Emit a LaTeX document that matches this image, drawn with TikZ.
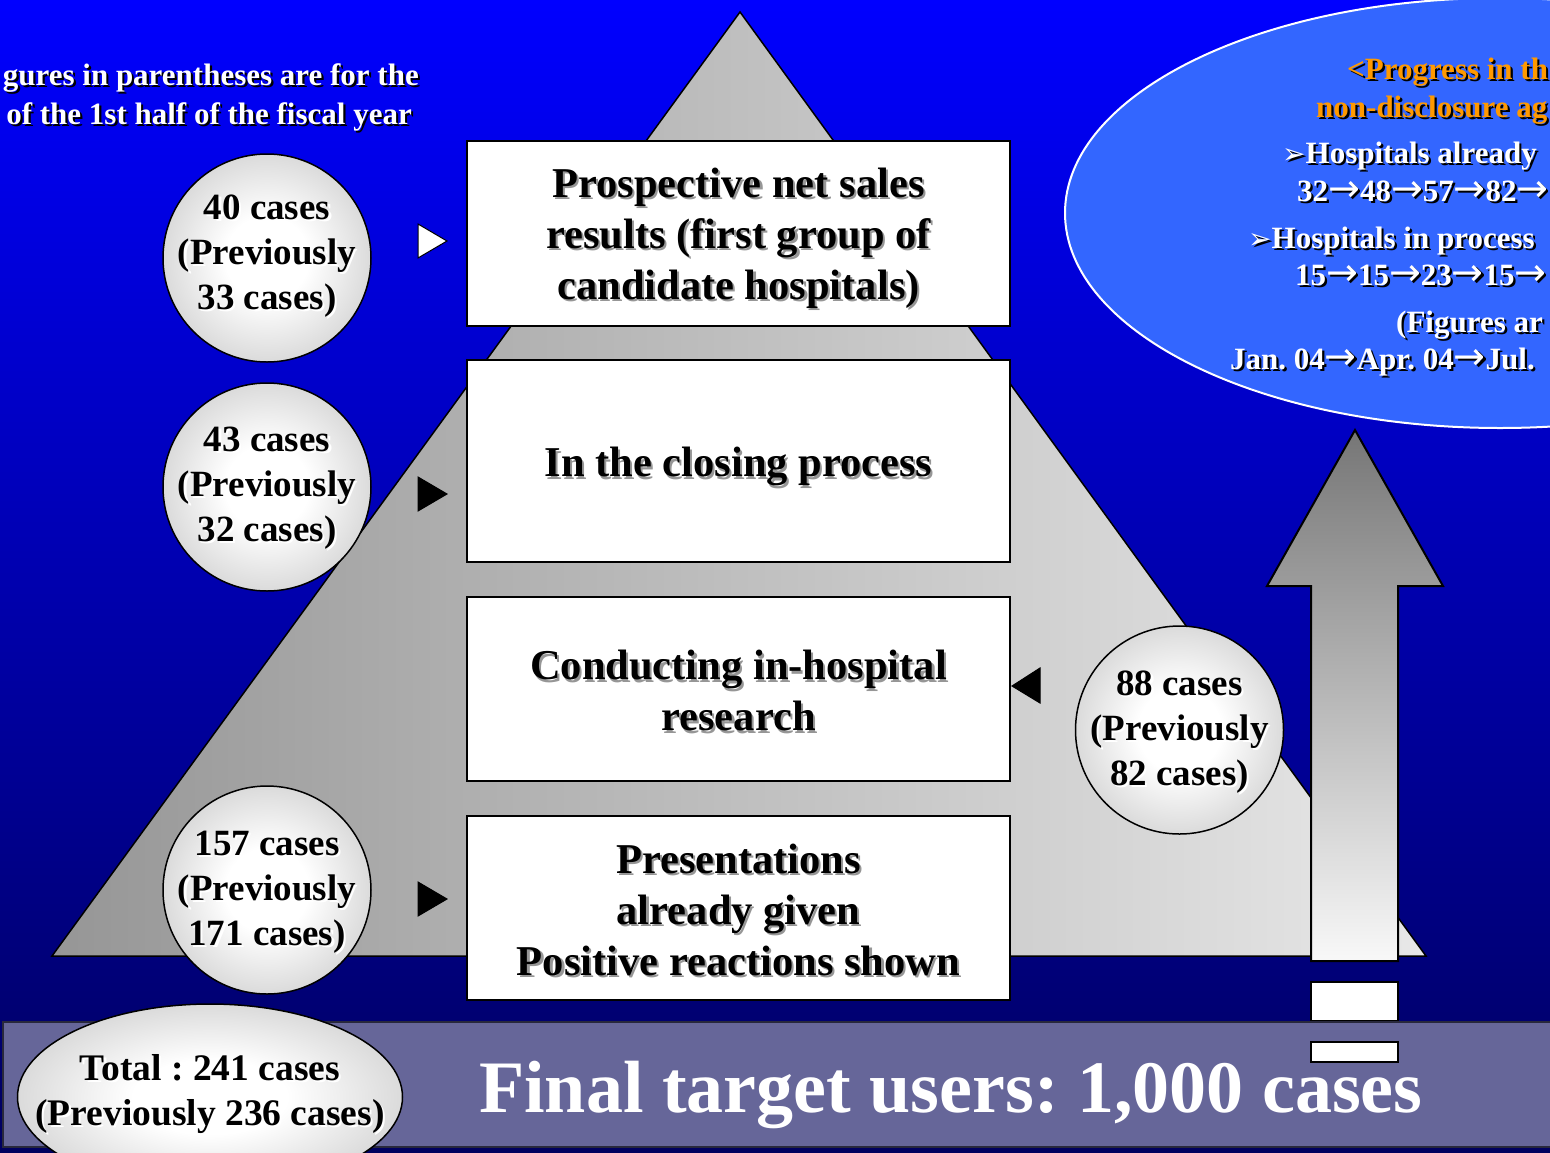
\documentclass[tikz,border=0pt]{standalone}
\usepackage{fontspec}
\setmainfont{Liberation Serif}
\newfontfamily\dejavu{DejaVu Sans}
\usetikzlibrary{calc,shapes.geometric}
\frenchspacing

\definecolor{bgtop}{RGB}{0,0,255}
\definecolor{bgmid}{RGB}{0,0,205}
\definecolor{bgbot}{RGB}{0,0,95}
\definecolor{pyrdark}{RGB}{150,150,150}
\definecolor{pyrlight}{RGB}{232,232,232}
\definecolor{ballgray}{RGB}{158,158,158}
\definecolor{barfill}{RGB}{102,102,153}
\definecolor{barline}{RGB}{40,40,60}
\definecolor{ovalblue}{RGB}{51,102,255}
\definecolor{orangetxt}{RGB}{255,153,0}
\definecolor{shadowgray}{RGB}{150,150,150}
\definecolor{arrowtop}{RGB}{118,118,118}
\definecolor{arrowbot}{RGB}{248,248,248}

% radial fill for the "ball" markers: white core fading to grey at the rim
\pgfdeclareradialshading{ball}{\pgfpoint{0bp}{0bp}}{color(0bp)=(white); color(10bp)=(white); color(50bp)=(ballgray)}

% text with a drop shadow offset to the lower right
\newcommand\shd[2][shadowgray]{\leavevmode\rlap{\kern2.2pt\raisebox{-2.2pt}{\textcolor{#1}{#2}}}#2}
% arrow and bullet glyphs taken from DejaVu Sans
\newcommand\ra{{\dejavu\mdseries\fontsize{38}{38}\selectfont →}}
\newcommand\bul{{\dejavu\fontsize{28}{28}\selectfont ➢}}

\tikzset{
  stagebox/.style={draw=black, line width=2pt, fill=white, inner sep=0pt,
    minimum width=543pt},
  stagetext/.style={inner sep=0pt, align=center,
    font=\fontsize{42.5}{51}\selectfont\bfseries},
  countball/.style={circle, draw=black, line width=1.5pt, shading=ball,
    minimum size=208pt, inner sep=0pt},
  counttext/.style={inner sep=0pt, align=center,
    font=\fontsize{37}{45}\selectfont\bfseries},
  ovaltext/.style={anchor=base west, inner sep=0pt, text=white,
    font=\fontsize{31}{37}\selectfont\bfseries},
  notetext/.style={anchor=base east, inner sep=0pt, text=white,
    font=\fontsize{31}{38}\selectfont\bfseries},
  marker/.style={line width=1pt, draw=black},
}

\begin{document}
\begin{tikzpicture}[x=1pt,y=-1pt]
\useasboundingbox (0,0) rectangle (1550,1152);
\clip (0,0) rectangle (1550,1152);

% backdrop
\shade[top color=bgtop, middle color=bgmid, bottom color=bgbot] (0,0) rectangle (1550,1152);

% progress oval, top right
\node[ellipse, draw=white, line width=2pt, fill=ovalblue, inner sep=0pt,
      minimum width=870pt, minimum height=430pt] (oval) at (1500,213) {};
\node[ovaltext, text=orangetxt] (o1) at (1347,79) {\shd[black]{<Progress in th}};
\node[ovaltext, text=orangetxt] (o2) at (1316,117) {\shd[black]{non-disclosure ag}};
\node[ovaltext] (o3) at (1282,163) {\shd[black]{\bul Hospitals already}};
\node[ovaltext] (o4) at (1297,201) {\shd[black]{32\ra48\ra57\ra82\ra}};
\node[ovaltext] (o5) at (1248,248) {\shd[black]{\bul Hospitals in process}};
\node[ovaltext] (o6) at (1295,285) {\shd[black]{15\ra15\ra23\ra15\ra}};
\node[ovaltext] (o7) at (1396,332) {\shd[black]{(Figures ar}};
\node[ovaltext] (o8) at (1230,369) {\shd[black]{Jan. 04\ra Apr. 04\ra Jul.}};

% pyramid
\shadedraw[left color=pyrdark, right color=pyrlight, draw=black, line width=1.5pt]
  (740,12) -- (1426,956) -- (52,956) -- cycle;

% rising arrow
\shadedraw[top color=arrowtop, bottom color=arrowbot, draw=black, line width=2pt]
  (1355,430) -- (1443,586) -- (1398,586) -- (1398,961) -- (1311,961)
  -- (1311,586) -- (1267,586) -- cycle;
\draw[fill=white, draw=black, line width=1.5pt] (1311,982) rectangle (1398,1021);

% note, top left
\node[notetext] (n1) at (419,85) {\shd[black]{gures in parentheses are for the}};
\node[notetext] (n2) at (412,124) {\shd[black]{of the 1st half of the fiscal year}};

% stage boxes
\node[stagebox, minimum height=185pt] (b1) at (738.5,233.5) {};
\node[stagebox, minimum height=202pt] (b2) at (738.5,461) {};
\node[stagebox, minimum height=184pt] (b3) at (738.5,689) {};
\node[stagebox, minimum height=184pt] (b4) at (738.5,908) {};
\node[stagetext] (t1) at ($(b1.center)+(0,6)$)
  {\shd{Prospective net sales}\\\shd{results (first group of}\\\shd{candidate hospitals)}};
\node[stagetext] (t2) at ($(b2.center)+(0,7)$) {\shd{In the closing process}};
\node[stagetext] (t3) at ($(b3.center)+(0,3)$) {\shd{Conducting in-hospital}\\\shd{research}};
\node[stagetext] (t4) at ($(b4.center)+(0,3)$)
  {\shd{Presentations}\\\shd{already given}\\\shd{Positive reactions shown}};

% case counts
\node[countball] (c1) at (267,258) {};
\node[countball] (c2) at (267,487) {};
\node[countball] (c3) at (267,890) {};
\node[countball] (c4) at (1179.5,730) {};
\node[counttext] (k1) at ($(c1.center)+(0,-1)$) {\shd[white]{40 cases}\\\shd[white]{(Previously}\\\shd[white]{33 cases)}};
\node[counttext] (k2) at ($(c2.center)+(0,2)$) {\shd[white]{43 cases}\\\shd[white]{(Previously}\\\shd[white]{32 cases)}};
\node[counttext] (k3) at ($(c3.center)+(0,3)$) {\shd[white]{157 cases}\\\shd[white]{(Previously}\\\shd[white]{171 cases)}};
\node[counttext] (k4) at ($(c4.center)+(0,3)$) {\shd[white]{88 cases}\\\shd[white]{(Previously}\\\shd[white]{82 cases)}};

% pointers between counts and stages
\filldraw[marker, fill=white] (418,224) -- (447,241) -- (418,258) -- cycle;
\filldraw[marker, fill=black] (418,477) -- (447,494) -- (418,511) -- cycle;
\filldraw[marker, fill=black] (418,882) -- (447,899) -- (418,916) -- cycle;
\filldraw[marker, fill=black] (1040,668) -- (1012,686) -- (1040,703) -- cycle;

% target bar
\draw[fill=barfill, draw=barline, line width=2pt] (3,1022) rectangle (1560,1147);
\draw[fill=white, draw=black, line width=1.5pt] (1311,1042) rectangle (1398,1062);
\node[anchor=base west, inner sep=0pt, text=white, font=\fontsize{74}{80}\selectfont\bfseries]
  (target) at (479,1112) {Final target users: 1,000 cases};

% total
\node[ellipse, draw=black, line width=1.5pt, shading=ball, inner sep=0pt,
      minimum width=385pt, minimum height=186pt] (total) at (210,1097) {};
\node[counttext, font=\fontsize{37.5}{45}\selectfont\bfseries] (tt) at ($(total.center)+(0,-2)$)
  {\shd[white]{Total : 241 cases}\\\shd[white]{(Previously 236 cases)}};
\end{tikzpicture}
\end{document}
